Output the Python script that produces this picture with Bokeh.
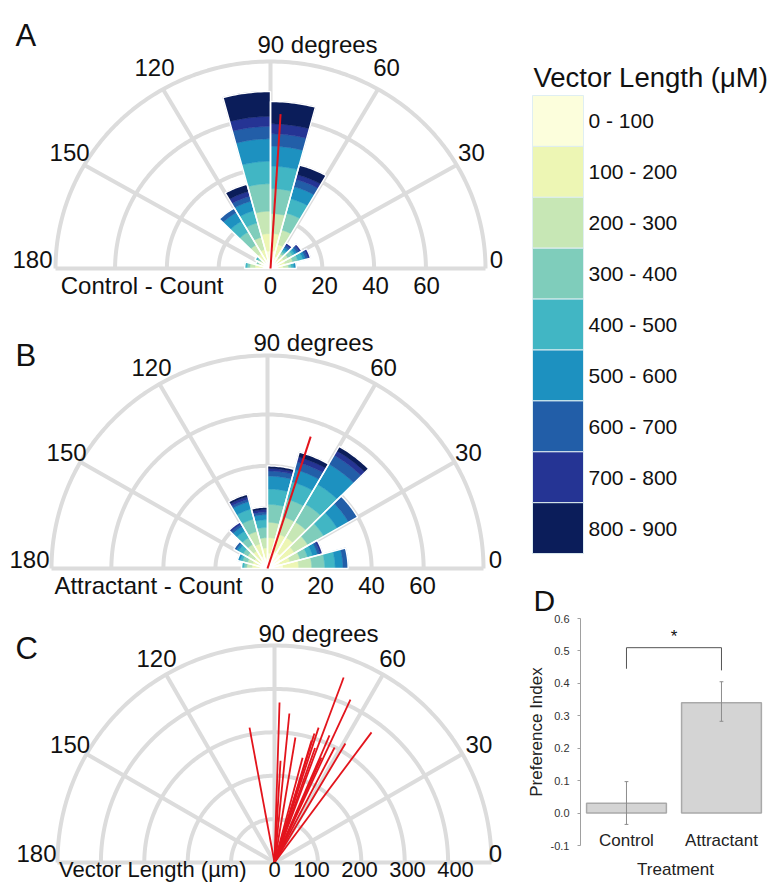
import numpy as np
from bokeh.plotting import figure
from bokeh.models import Range1d, FixedTicker, NumeralTickFormatter
from bokeh.layouts import row, column
from bokeh.core.properties import value
from bokeh.embed import file_html
from bokeh.resources import INLINE

FONT = "Liberation Sans"

# ---------------- data ----------------
length_classes = ["0 - 100", "100 - 200", "200 - 300", "300 - 400", "400 - 500",
                  "500 - 600", "600 - 700", "700 - 800", "800 - 900"]
class_colors = ["#fcfedc", "#edf6b4", "#c7e7b5", "#7fcdbb", "#41b6c4",
                "#1d91c0", "#225ea8", "#253494", "#0b1d5a"]

bin_edges = [0, 15, 30, 45, 60, 75, 90, 105, 120, 135, 150, 165, 180]

# counts per angular bin (rows) and per vector-length class (columns)
control_counts = [
    [3, 2, 2, 1, 1, 1, 0, 0, 0],
    [3, 3, 3, 2, 2, 1, 1, 1, 0],
    [3, 3, 2, 2, 1, 1, 1, 1, 0],
    [3, 2, 2, 1, 1, 1, 1, 1, 0],
    [5, 5, 6, 7, 6, 5, 3, 2, 4],
    [7, 7, 8, 10, 9, 8, 5, 4, 9],
    [7, 7, 9, 11, 9, 9, 5, 4, 10],
    [4, 4, 5, 6, 5, 4, 2, 2, 3],
    [3, 4, 4, 6, 5, 4, 2, 0, 0],
    [2, 2, 1, 1, 1, 0, 0, 0, 0],
    [2, 2, 1, 1, 0, 0, 0, 0, 0],
    [3, 3, 2, 1, 1, 0, 0, 0, 0],
]
attractant_counts = [
    [6, 6, 5, 5, 4, 3, 2, 0, 0],
    [5, 4, 4, 3, 2, 2, 1, 1, 0],
    [6, 6, 6, 7, 6, 5, 4, 0, 0],
    [7, 7, 7, 8, 9, 9, 4, 2, 2],
    [7, 7, 7, 7, 7, 5, 3, 2, 2],
    [6, 6, 6, 7, 6, 5, 2, 1, 1],
    [4, 4, 4, 4, 3, 2, 1, 1, 1],
    [5, 5, 5, 5, 4, 3, 1, 1, 1],
    [4, 4, 3, 3, 3, 2, 1, 1, 0],
    [3, 3, 3, 2, 2, 1, 1, 0, 0],
    [3, 3, 2, 2, 1, 1, 0, 0, 0],
    [3, 3, 2, 1, 1, 0, 0, 0, 0],
]
control_mean_angle = 86.4
control_mean_count = 62
attractant_mean_angle = 72.1
attractant_mean_count = 54

vector_angles = [100.5, 88.2, 84.3, 80.5, 86.6, 69.5, 65.0, 53.3, 59.2,
                 71.9, 72.8, 66.6, 73.1, 62.4, 65.9, 70.5, 75.0]
vector_lengths = [316, 369, 345, 292, 235, 455, 414, 374, 319,
                  327, 311, 319, 294, 299, 265, 280, 250]

angle_ticks = [0, 30, 60, 90, 120, 150, 180]
count_rings = [20, 40, 60]
count_outer = 83
length_rings = [100, 200, 300, 400]
length_outer = 500

treatments = ["Control", "Attractant"]
pref_index = [0.03, 0.34]
pref_low = [-0.035, 0.283]
pref_high = [0.097, 0.405]
sig_y = 0.51
sig_leg_low = [0.445, 0.44]
pref_ticks = [-0.1, 0.0, 0.1, 0.2, 0.3, 0.4, 0.5, 0.6]

TXT = "#111111"
GRID = "#dcdcdc"
RED = "#e3141c"


def no_align(p):
    if "frame_align" in p.properties():
        p.frame_align = False


# ---------------- helpers ----------------
def polar_panel(W, H, origin, center, sx, sy, outer, rings):
    ox, oy = origin
    cx, cy = center
    lx, ly = cx - ox, cy - oy
    p = figure(width=W, height=H,
               x_range=Range1d(-lx / sx, (W - lx) / sx),
               y_range=Range1d(-(H - ly) / sy, ly / sy),
               x_axis_type=None, y_axis_type=None, output_backend="svg",
               toolbar_location=None, min_border=0)
    p.outline_line_color = None
    no_align(p)

    t = np.radians(np.linspace(0, 180, 181))
    gx = [(r * np.cos(t)).tolist() for r in rings + [outer]]
    gy = [(r * np.sin(t)).tolist() for r in rings + [outer]]
    for a in angle_ticks[1:-1]:
        ar = np.radians(a)
        gx.append([0.0, outer * np.cos(ar)])
        gy.append([0.0, outer * np.sin(ar)])
    gx.append([-outer, outer])
    gy.append([0.0, 0.0])
    p.multi_line(gx, gy, line_color=GRID, line_width=4)
    return p


def add_labels(p, sx, sy, rings, cfg):
    def put(dx, dy, txt, size, align="center", baseline="middle"):
        p.text(x=[dx / sx], y=[dy / sy], text=[txt], text_font=value(FONT),
               text_font_size=size, text_align=align, text_baseline=baseline,
               text_color=TXT)

    rl = cfg["rl"]
    for a in angle_ticks:
        if a == 90:
            put(cfg["d90"][0], cfg["d90"][1], "90 degrees", "24px", "left")
        elif a == 0:
            put(cfg["d0"], 9, "0", "24px")
        elif a == 180:
            put(-238, 9, "180", "24px")
        else:
            ar = np.radians(a)
            put(rl * np.cos(ar), rl * np.sin(ar), str(a), "24px")
    lb, la = cfg["lab_scale"]
    for v in [0] + rings:
        put(0 if v == 0 else v * lb + la, cfg["dyl"], str(v), cfg["fs"])
    put(cfg["title_dx"], cfg["dyl"], cfg["title"], cfg["fs"], "right")
    put(cfg["letter"][0], cfg["letter"][1], cfg["letter"][2], "31px", "left", "alphabetic")


def rose(p, counts):
    xs, ys, cols, oxs, oys = [], [], [], [], []
    for i, cnt in enumerate(counts):
        a = np.radians(np.linspace(bin_edges[i], bin_edges[i + 1], 16))
        cum = np.cumsum(cnt)
        for k, c in enumerate(cnt):
            if c == 0:
                continue
            r0, r1 = cum[k] - c, cum[k]
            xs.append(np.r_[r1 * np.cos(a), r0 * np.cos(a[::-1])].tolist())
            ys.append(np.r_[r1 * np.sin(a), r0 * np.sin(a[::-1])].tolist())
            cols.append(class_colors[k])
        tot = cum[-1]
        oxs.append(np.r_[0.0, tot * np.cos(a), 0.0].tolist())
        oys.append(np.r_[0.0, tot * np.sin(a), 0.0].tolist())
    p.patches(xs, ys, fill_color=cols, line_color=cols, line_width=0.5)
    p.patches(oxs, oys, fill_color=None, line_color="white", line_width=1.5)


# ---------------- panel A ----------------
sxA, syA = 215 / count_outer, 207 / count_outer
pA = polar_panel(505, 300, (0, 0), (270, 268), sxA, syA, count_outer, count_rings)
rose(pA, control_counts)
ma = np.radians(control_mean_angle)
pA.segment(x0=[0], y0=[0], x1=[control_mean_count * np.cos(ma)],
           y1=[control_mean_count * np.sin(ma)], line_color=RED, line_width=2)
add_labels(pA, sxA, syA, count_rings,
           dict(rl=232, d90=(-13, 224), d0=226, dyl=-17, fs="24px", title_dx=-47,
                lab_scale=(2.55, 3), title="Control - Count", letter=(-255, 233, "A")))

# ---------------- panel B ----------------
sxB, syB = 216 / count_outer, 213 / count_outer
pB = polar_panel(505, 300, (0, 300), (267, 568), sxB, syB, count_outer, count_rings)
rose(pB, attractant_counts)
mb = np.radians(attractant_mean_angle)
pB.segment(x0=[0], y0=[0], x1=[attractant_mean_count * np.cos(mb)],
           y1=[attractant_mean_count * np.sin(mb)], line_color=RED, line_width=2)
add_labels(pB, sxB, syB, count_rings,
           dict(rl=232, d90=(-14, 226), d0=228, dyl=-17, fs="24px", title_dx=-25,
                lab_scale=(2.55, 2), title="Attractant - Count", letter=(-252, 213, "B")))

# ---------------- panel C ----------------
sC = 217 / length_outer
pC = polar_panel(505, 282, (0, 600), (274, 862), sC, sC, length_outer, length_rings)
va = np.radians(vector_angles)
vl = np.array(vector_lengths, dtype=float)
pC.segment(x0=0, y0=0, x1=(vl * np.cos(va)).tolist(), y1=(vl * np.sin(va)).tolist(),
           line_color=RED, line_width=1.8)
add_labels(pC, sC, sC, length_rings,
           dict(rl=236, d90=(-16, 229), d0=221, dyl=-7, fs="22px", title_dx=-28,
                lab_scale=(0.48, -11), title="Vector Length (µm)", letter=(-259, 214, "C")))

# ---------------- legend ----------------
lg = figure(width=270, height=575, x_range=Range1d(0, 270), y_range=Range1d(575, 0),
            x_axis_type=None, y_axis_type=None, output_backend="svg",
            toolbar_location=None, min_border=0)
lg.outline_line_color = None
no_align(lg)
seg = 50.9
tops = [95 + i * seg for i in range(len(length_classes))]
lg.quad(left=27, right=78, top=tops, bottom=[t + seg for t in tops],
        fill_color=class_colors, line_color="#dfeef2", line_width=1)
lg.text(x=83, y=[t + seg / 2 for t in tops], text=length_classes, text_font=value(FONT),
        text_font_size="21px", text_align="left", text_baseline="middle", text_color=TXT)
lg.text(x=[28], y=[77], text=["Vector Length (μM)"], text_font=value(FONT),
        text_font_size="27.5px", text_align="left", text_baseline="middle", text_color=TXT)

# ---------------- panel D ----------------
pos = list(range(1, len(treatments) + 1))
d = figure(width=270, height=307, x_range=Range1d(0.516, 2.516),
           y_range=Range1d(pref_ticks[0], pref_ticks[-1]),
           output_backend="svg", toolbar_location=None, min_border_left=75,
           min_border_right=5, min_border_top=43, min_border_bottom=37, title="D")
no_align(d)
d.title.text_font = FONT
d.title.text_font_size = "30px"
d.title.text_font_style = "normal"
d.title.text_color = TXT
d.title.align = "left"
d.title.offset = -47
d.title.standoff = 4
d.outline_line_color = None
d.xgrid.visible = False
d.ygrid.visible = False

d.vbar(x=pos, top=pref_index, bottom=0, width=0.84, fill_color="#d4d4d4",
       line_color="#a9a9a9", line_width=1.5)
d.segment(x0=pos, y0=pref_low, x1=pos, y1=pref_high, line_color="#8c8c8c", line_width=1)
cap = 0.02
d.segment(x0=[x - cap for x in pos] * 2, y0=pref_low + pref_high,
          x1=[x + cap for x in pos] * 2, y1=pref_low + pref_high,
          line_color="#8c8c8c", line_width=1)
d.multi_line([[pos[0], pos[0], pos[1], pos[1]]],
             [[sig_leg_low[0], sig_y, sig_y, sig_leg_low[1]]],
             line_color="#555555", line_width=1)
d.text(x=[(pos[0] + pos[1]) / 2], y=[0.545], text=["*"], text_font=value(FONT),
       text_font_size="17px", text_align="center", text_baseline="middle", text_color=TXT)

d.yaxis.ticker = FixedTicker(ticks=pref_ticks)
d.yaxis.formatter = NumeralTickFormatter(format="0.0")
d.yaxis.minor_tick_line_color = None
d.yaxis.major_tick_out = 3
d.yaxis.major_tick_in = 0
d.yaxis.major_label_standoff = 8
d.yaxis.axis_line_color = "#a0a0a0"
d.yaxis.major_tick_line_color = "#a0a0a0"
d.yaxis.major_label_text_font = FONT
d.yaxis.major_label_text_font_size = "11px"
d.yaxis.major_label_text_color = "#333333"
d.yaxis.axis_label = "Preference Index"
d.yaxis.axis_label_text_font = FONT
d.yaxis.axis_label_text_font_size = "17px"
d.yaxis.axis_label_text_font_style = "normal"
d.yaxis.axis_label_text_color = "#222222"
d.yaxis.axis_label_standoff = 2

d.xaxis.ticker = FixedTicker(ticks=pos)
d.xaxis.major_label_overrides = {p_: t for p_, t in zip(pos, treatments)}
d.xaxis.axis_line_color = None
d.xaxis.major_tick_line_color = None
d.xaxis.minor_tick_line_color = None
d.xaxis.major_tick_out = 0
d.xaxis.major_tick_in = 0
d.xaxis.major_label_standoff = -15
d.xaxis.major_label_text_font = FONT
d.xaxis.major_label_text_font_size = "17px"
d.xaxis.major_label_text_color = "#222222"
d.xaxis.axis_label = "Treatment"
d.xaxis.axis_label_text_font = FONT
d.xaxis.axis_label_text_font_size = "17px"
d.xaxis.axis_label_text_font_style = "normal"
d.xaxis.axis_label_text_color = "#222222"
d.xaxis.axis_label_standoff = 7

layout = row(column(pA, pB, pC), column(lg, d))
open("out.html", "w").write(file_html(layout, INLINE))
